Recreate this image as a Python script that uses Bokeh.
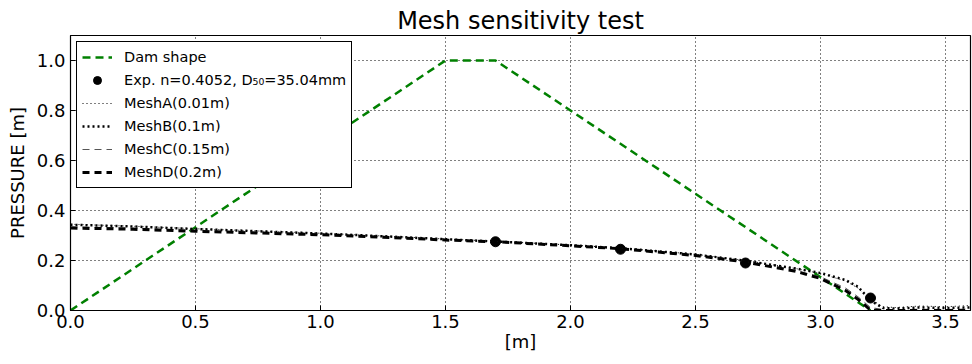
from bokeh.plotting import figure
from bokeh.embed import file_html
from bokeh.resources import INLINE
from bokeh.models import Range1d, FixedTicker, Legend, LegendItem, PrintfTickFormatter

# Dam shape
dam_x = [0.0, 1.5, 1.7, 3.2]
dam_y = [0.0, 1.0, 1.0, 0.0]

# Experimental points
exp_x = [1.7, 2.2, 2.7, 3.2]
exp_y = [0.275, 0.245, 0.19, 0.05]

# Mesh results
mesh_x = [0.0, 0.25, 0.5, 0.75, 1.0, 1.25, 1.5, 1.7, 2.0, 2.2, 2.5, 2.7, 2.9, 3.0, 3.1, 3.15, 3.2, 3.25, 3.3, 3.4, 3.5, 3.6]
meshA_y = [0.345, 0.337, 0.327, 0.318, 0.309, 0.298, 0.286, 0.277, 0.262, 0.250, 0.225, 0.200, 0.168, 0.148, 0.118, 0.090, 0.045, 0.015, 0.012, 0.018, 0.015, 0.020]
meshB_y = [0.343, 0.336, 0.326, 0.317, 0.308, 0.297, 0.285, 0.276, 0.261, 0.249, 0.224, 0.199, 0.168, 0.150, 0.122, 0.095, 0.040, 0.010, 0.008, 0.012, 0.010, 0.012]
meshC_y = [0.335, 0.330, 0.320, 0.313, 0.305, 0.295, 0.284, 0.276, 0.260, 0.248, 0.222, 0.196, 0.160, 0.135, 0.090, 0.055, 0.012, 0.004, 0.003, 0.005, 0.004, 0.006]
meshD_y = [0.330, 0.325, 0.317, 0.310, 0.303, 0.293, 0.282, 0.275, 0.259, 0.247, 0.220, 0.194, 0.157, 0.128, 0.080, 0.045, 0.002, 0.0, 0.0, 0.0, 0.0, 0.0]

x_ticks = [0.0, 0.5, 1.0, 1.5, 2.0, 2.5, 3.0, 3.5]
y_ticks = [0.0, 0.2, 0.4, 0.6, 0.8, 1.0]

p = figure(width=972, height=364, output_backend="svg", toolbar_location=None,
           x_range=Range1d(0, 3.6), y_range=Range1d(0, 1.1),
           title="Mesh sensitivity test",
           min_border_left=70, min_border_right=2, min_border_top=35, min_border_bottom=54)

font = "DejaVu Sans"
p.title.align = "center"
p.title.text_font = font
p.title.text_font_size = "24px"
p.title.text_font_style = "normal"
p.title.text_color = "black"
p.title.standoff = 2

p.xaxis.axis_label = "[m]"
p.yaxis.axis_label = "PRESSURE [m]"
for ax in (p.xaxis, p.yaxis):
    ax.axis_label_text_font = font
    ax.axis_label_text_font_size = "18px"
    ax.axis_label_text_font_style = "normal"
    ax.major_label_text_font = font
    ax.major_label_text_font_size = "18px"
    ax.major_tick_in = 5
    ax.major_tick_out = 0
    ax.minor_tick_in = 0
    ax.minor_tick_out = 0
    ax.axis_line_color = "black"
    ax.major_tick_line_color = "black"
    ax.major_label_text_color = "black"
    ax.axis_label_text_color = "black"
    ax.formatter = PrintfTickFormatter(format="%.1f")
p.xaxis.ticker = FixedTicker(ticks=x_ticks)
p.yaxis.ticker = FixedTicker(ticks=y_ticks)
p.xaxis.axis_label_standoff = 0
p.yaxis.axis_label_standoff = 6
p.xaxis.major_label_standoff = 4

p.outline_line_color = "black"
p.outline_line_width = 1.2
p.grid.grid_line_color = "black"
p.grid.grid_line_dash = "1 3"
p.grid.grid_line_width = 1

r_dam = p.line(dam_x, dam_y, line_color="#008000", line_width=2.5, line_dash="8 5")
r_exp = p.scatter(exp_x, exp_y, size=10, color="black")
r_a = p.line(mesh_x, meshA_y, line_color="black", line_width=1, line_dash="1 3")
r_b = p.line(mesh_x, meshB_y, line_color="black", line_width=2.5, line_dash="2 3")
r_c = p.line(mesh_x, meshC_y, line_color="#555555", line_width=1, line_dash="7 5")
r_d = p.line(mesh_x, meshD_y, line_color="black", line_width=3, line_dash="7 5")

legend = Legend(items=[
    LegendItem(label="Dam shape", renderers=[r_dam]),
    LegendItem(label="Exp. n=0.4052, D₅₀=35.04mm", renderers=[r_exp]),
    LegendItem(label="MeshA(0.01m)", renderers=[r_a]),
    LegendItem(label="MeshB(0.1m)", renderers=[r_b]),
    LegendItem(label="MeshC(0.15m)", renderers=[r_c]),
    LegendItem(label="MeshD(0.2m)", renderers=[r_d]),
], location="top_left")
legend.label_text_font = font
legend.label_text_font_size = "14.5px"
legend.label_text_color = "black"
legend.border_line_color = "black"
legend.border_line_alpha = 1
legend.border_line_width = 1.2
legend.margin = 6
legend.padding = 5
legend.spacing = 3
legend.glyph_width = 30
legend.label_standoff = 12
legend.label_height = 20
legend.glyph_height = 20
legend.background_fill_alpha = 1
p.add_layout(legend)

open("out.html", "w").write(file_html(p, INLINE))
